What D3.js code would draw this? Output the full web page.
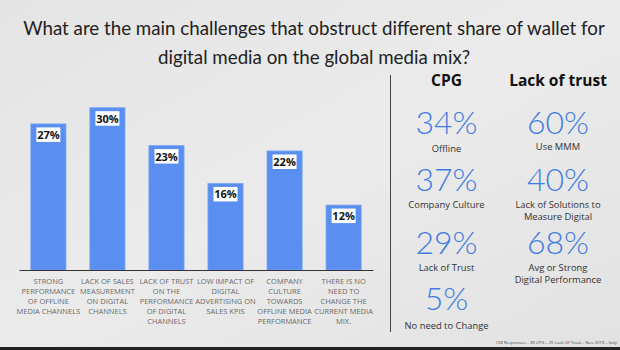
<!DOCTYPE html>
<html><head><meta charset="utf-8">
<script src="https://cdn.jsdelivr.net/npm/d3@7"></script>
<style>
html,body{margin:0;padding:0;background:#e8e8e8;}
svg{display:block;}
</style></head>
<body><svg id="c" width="620" height="350"></svg>
<script>
const titleLines = ["What are the main challenges that obstruct different share of wallet for","digital media on the global media mix?"];
const categories = [
  ["STRONG","PERFORMANCE","OF OFFLINE","MEDIA CHANNELS"],
  ["LACK OF SALES","MEASUREMENT","ON DIGITAL","CHANNELS"],
  ["LACK OF TRUST","ON THE","PERFORMANCE","OF DIGITAL","CHANNELS"],
  ["LOW IMPACT OF","DIGITAL","ADVERTISING ON","SALES KPIS"],
  ["COMPANY","CULTURE","TOWARDS","OFFLINE MEDIA","PERFORMANCE"],
  ["THERE IS NO","NEED TO","CHANGE THE","CURRENT MEDIA","MIX."]
];
const values = [27, 30, 23, 16, 22, 12];
const panelHeaders = ["CPG", "Lack of trust"];
const cpgValues = [34, 37, 29, 5];
const cpgLabels = [["Offline"],["Company Culture"],["Lack of Trust"],["No need to Change"]];
const trustValues = [60, 40, 68];
const trustLabels = [["Use MMM"],["Lack of Solutions to","Measure Digital"],["Avg or Strong","Digital Performance"]];
const footnote = "108 Responses – 38 CPG – 25 Lack Of Trust – Nov 2019 – Italy";

const svg = d3.select("#c");
// background
const defs = svg.append("defs");
const g0 = defs.append("linearGradient").attr("id","bg").attr("x1",0).attr("x2",1).attr("y1",0).attr("y2",1);
g0.append("stop").attr("offset","0").attr("stop-color","#e4e4e4");
g0.append("stop").attr("offset","0.5").attr("stop-color","#ebebeb");
g0.append("stop").attr("offset","1").attr("stop-color","#e2e2e2");
svg.append("rect").attr("width",620).attr("height",350).attr("fill","url(#bg)");
svg.append("rect").attr("x",0).attr("y",347).attr("width",620).attr("height",3).attr("fill","#222");

// title (fit line 1 to the reference width)
const title = svg.append("g");
const tEls = titleLines.map((t,i)=>title.append("text").attr("x",314).attr("y",35+i*29).attr("text-anchor","middle")
    .attr("font-family","Lato, 'Open Sans', sans-serif").attr("font-size",20)
    .attr("fill","#222").text(t));
const w0 = tEls[0].node().getComputedTextLength();
const fs = Math.min(24, 20*582/w0);
tEls.forEach(e=>e.attr("font-size",fs));

// bar chart
const x = d3.scaleBand().domain(d3.range(values.length)).range([19,373]).paddingInner(0.405).paddingOuter(0.2);
const y = d3.scaleLinear().domain([0,30]).range([270,107.7]);
const bars = svg.append("g");
bars.selectAll("rect.bar").data(values).join("rect").attr("class","bar")
  .attr("x",(d,i)=>x(i)).attr("y",d=>y(d)).attr("width",x.bandwidth()).attr("height",d=>y(0)-y(d))
  .attr("fill","#5a8ef0").attr("stroke","#7aa6f4").attr("stroke-width",0.8);
// baseline axis
const xAxis = d3.axisBottom(x).tickSize(0).tickFormat("");
const ax = svg.append("g").attr("transform","translate(0,270)").call(xAxis);
ax.select(".domain").attr("stroke","#333").attr("stroke-width",1.2);
// value labels
values.forEach((v,i)=>{
  const cx = x(i)+x.bandwidth()/2;
  const lg = bars.append("g");
  lg.append("rect").attr("x",cx-12).attr("y",y(v)+3.5).attr("width",24).attr("height",14.5).attr("fill","#fff");
  lg.append("text").attr("x",cx).attr("y",y(v)+15).attr("text-anchor","middle")
    .attr("font-family","'Open Sans', sans-serif").attr("font-weight","bold").attr("font-size",11)
    .attr("fill","#111").text(v+"%");
});
// category labels
categories.forEach((lines,i)=>{
  const cx = x(i)+x.bandwidth()/2;
  const t = svg.append("text").attr("text-anchor","middle")
    .attr("font-family","'Open Sans', sans-serif").attr("font-size",7.5).attr("fill","#6a6a6a");
  lines.forEach((l,j)=>{
    t.append("tspan").attr("x",cx).attr("y",283.5+j*10).text(l);
  });
});

// divider
svg.append("line").attr("x1",390.5).attr("x2",390.5).attr("y1",75).attr("y2",332).attr("stroke","#444").attr("stroke-width",1);

// right panel
const cols = [446.5, 558];
panelHeaders.forEach((h,i)=>{
  svg.append("text").attr("x",cols[i]).attr("y",85.5).attr("text-anchor","middle")
    .attr("font-family","'Open Sans', sans-serif").attr("font-weight","bold").attr("font-size",15.5)
    .attr("fill","#111").text(h);
});
const numY = [134.3, 190.7, 254, 310];
const labY = [151.5, 208, 270.7, 329];
const trustLabY = [150, 207.7, 270.7];
function stat(cx, v, ny, lines, ly){
  svg.append("text").attr("x",cx).attr("y",ny).attr("text-anchor","middle")
    .attr("font-family","Lato, 'Open Sans', sans-serif").attr("font-weight",300).attr("font-size",32)
    .attr("fill","#3f7ce2").text(v+"%");
  lines.forEach((l,j)=>{
    svg.append("text").attr("x",cx).attr("y",ly+j*12.3).attr("text-anchor","middle")
      .attr("font-family","'Open Sans', sans-serif").attr("font-size",9.4)
      .attr("fill","#333").text(l);
  });
}
cpgValues.forEach((v,i)=>stat(cols[0], v, numY[i], cpgLabels[i], labY[i]));
trustValues.forEach((v,i)=>stat(cols[1], v, numY[i], trustLabels[i], trustLabY[i]));

svg.append("text").attr("x",617).attr("y",343.5).attr("text-anchor","end")
  .attr("font-family","'Open Sans', sans-serif").attr("font-size",4.3).attr("fill","#444").text(footnote);
</script></body></html>
